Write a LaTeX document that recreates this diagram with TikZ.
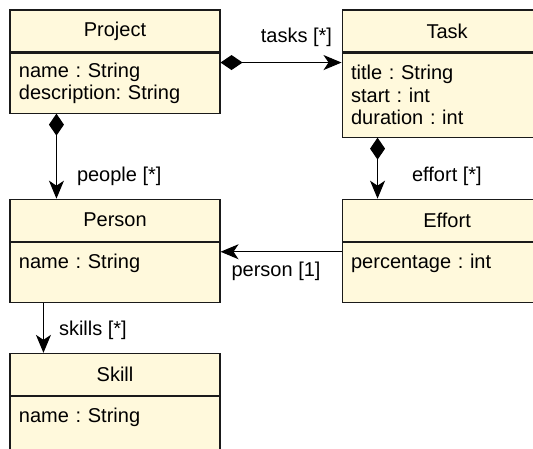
\documentclass[tikz,border=0pt]{standalone}
\usepackage{fontspec}
\setmainfont{Liberation Sans}
\usetikzlibrary{positioning,arrows.meta}
\frenchspacing

\definecolor{classfill}{HTML}{FFF9DC}
\definecolor{classline}{HTML}{1A1A1A}

\tikzset{
    classhead/.style={draw=classline, fill=classfill, line width=1.1pt, minimum width=210pt, minimum height=42pt, inner sep=0pt},
    classbody/.style={draw=classline, fill=classfill, line width=1.1pt, text width=192pt, inner xsep=9pt, inner ysep=0pt, align=left},
    assoc/.style={line width=1.1pt, -{Stealth[length=18pt, width=15pt, inset=5pt]}},
    comp/.style={line width=1.1pt, {Diamond[length=22pt, width=15pt]}-{Stealth[length=18pt, width=15pt, inset=5pt]}},
    lbl/.style={inner sep=0pt}
}

\begin{document}
\begin{tikzpicture}[x=1pt, y=-1pt, font=\fontsize{20}{22.5}\selectfont]
    \useasboundingbox (0,0) rectangle (533,448);
    \clip (0,0) rectangle (533,448);

    \node (projecthead) [classhead] at (115,31) {Project};
    \node (projectbody) [below=0pt of projecthead, classbody, minimum height=60pt] {name : String\\description: String};
    \node (taskhead) [right=121pt of projecthead, classhead] {Task};
    \node (taskbody) [below=0pt of taskhead, classbody, minimum height=84pt] {title : String\\start : int\\duration : int};
    \node (personhead) [below=85pt of projectbody, classhead] {Person};
    \node (personbody) [below=0pt of personhead, classbody, minimum height=60pt] {name : String\\~};
    \node (efforthead) [below=61pt of taskbody, classhead] {Effort};
    \node (effortbody) [below=0pt of efforthead, classbody, minimum height=60pt] {percentage : int\\~};
    \node (skillhead) [below=50pt of personbody, classhead] {Skill};
    \node (skillbody) [below=0pt of skillhead, classbody, minimum height=60pt] {name : String\\~};

    \draw [comp] ([yshift=-10pt]projectbody.north east) -- ([yshift=-10pt]taskbody.north west)
        node [lbl, pos=1, anchor=east, xshift=-9pt, yshift=25pt] {tasks [*]};
    \draw [comp] ([xshift=47pt]projectbody.south west) -- ([xshift=47pt]personhead.north west)
        node [lbl, pos=1, anchor=west, xshift=20pt, yshift=22pt] {people [*]};
    \draw [comp] ([xshift=36pt]taskbody.south west) -- ([xshift=36pt]efforthead.north west)
        node [lbl, pos=1, anchor=west, xshift=34pt, yshift=22pt] {effort [*]};
    \draw [assoc] ([yshift=-10pt]effortbody.north west) -- ([yshift=-10pt]personbody.north east)
        node [lbl, midway, xshift=-5pt, yshift=-20pt] {person [1]};
    \draw [assoc] ([xshift=34pt]personbody.south west) -- ([xshift=34pt]skillhead.north west)
        node [lbl, pos=1, anchor=west, xshift=15pt, yshift=23pt] {skills [*]};
\end{tikzpicture}
\end{document}
